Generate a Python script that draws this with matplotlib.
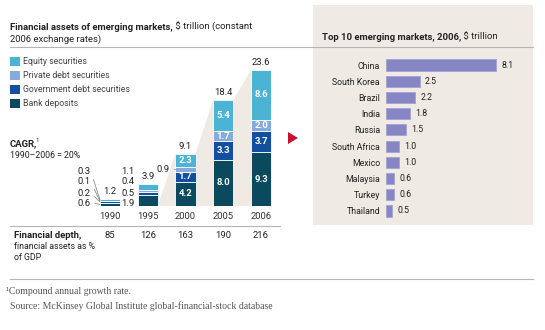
import matplotlib
matplotlib.use('Agg')
import matplotlib.pyplot as plt
from matplotlib.patches import Rectangle, Polygon
from matplotlib.lines import Line2D
from matplotlib.transforms import blended_transform_factory

plt.rcParams['font.family'] = ['Roboto', 'DejaVu Sans']

# data
years = ['1990', '1995', '2000', '2005', '2006']
bank = [0.6, 1.9, 4.2, 8.0, 9.3]
govt = [0.2, 0.5, 1.7, 3.3, 3.7]
private = [0.1, 0.4, 0.9, 1.7, 2.0]
equity = [0.3, 1.1, 2.3, 5.4, 8.6]
totals = [1.2, 3.9, 9.1, 18.4, 23.6]
depth = [85, 126, 163, 190, 216]

countries = ['China', 'South Korea', 'Brazil', 'India', 'Russia',
             'South Africa', 'Mexico', 'Malaysia', 'Turkey', 'Thailand']
country_vals = [8.1, 2.5, 2.2, 1.8, 1.5, 1.0, 1.0, 0.6, 0.6, 0.5]

series_names = ['Equity securities', 'Private debt securities',
                'Government debt securities', 'Bank deposits']
series_cols = ['#4bb4d4', '#86aadb', '#134f9e', '#0b4a5e']
beige = '#efeae4'
txtc = '#222222'
fs = 6.3

W, H = 545, 330
fig = plt.figure(figsize=(5.45, 3.30), dpi=100)


def fx(px):
    return px / W


def fy(py):
    return 1 - py / H


def rich(x, y, parts, size=6.8, color=txtc):
    r = fig.canvas.get_renderer()
    for txt, weight in parts:
        t = fig.text(fx(x), fy(y), txt, fontsize=size, fontweight=weight,
                     va='center', ha='left', color=color)
        x += t.get_window_extent(renderer=r).width


# right beige panel
fig.patches.append(Rectangle((fx(313), fy(225)), fx(533) - fx(313), 220 / H,
                             transform=fig.transFigure, facecolor=beige,
                             edgecolor='none', zorder=-1))

# rules
for y0, x0, x1 in [(47, 10, 533), (226, 10, 280), (279, 10, 533)]:
    fig.add_artist(Line2D([fx(x0), fx(x1)], [fy(y0), fy(y0)], color='#b5b5b5', lw=0.8))

# titles
rich(10, 27, [('Financial assets of emerging markets,', 'bold'), (' $ trillion (constant', 'normal')])
rich(10, 39, [('2006 exchange rates)', 'normal')])
rich(322, 37, [('Top 10 emerging markets, 2006,', 'bold'), (' $ trillion', 'normal')])

# legend
for i, (nm, c) in enumerate(zip(series_names, series_cols)):
    yc = 61.5 + i * 14
    fig.patches.append(Rectangle((fx(9.5), fy(yc + 4.7)), 10 / W, 9.4 / H,
                                 transform=fig.transFigure, facecolor=c, edgecolor='none'))
    fig.text(fx(23), fy(yc), nm, fontsize=fs, va='center', color='#444444')

# CAGR
rich(10, 144, [('CAGR,', 'bold')])
fig.text(fx(36), fy(140), '1', fontsize=4.5, va='center', color=txtc)
rich(10, 155, [('1990\u20132006 = 20%', 'normal')], size=fs)

# left stacked bars
ppu = 5.76
ax = fig.add_axes([fx(91.1), fy(206), 188.8 / W, 159 / H])
ax.set_zorder(3)
ax.set_xlim(-0.5, 4.5)
ax.set_ylim(0, 159 / ppu)
ax.patch.set_visible(False)
for s in ax.spines.values():
    s.set_visible(False)
w = 0.53
x = list(range(len(years)))

# beige wedge behind growing bars
wx = [1 + w / 2, 2 - w / 2, 2 + w / 2, 3 - w / 2, 3 + w / 2, 4 - w / 2, 4 + w / 2, 4 + w / 2]
wy = [0, totals[2], totals[2], totals[3], totals[3], totals[4], totals[4], 0]
ax.add_patch(Polygon(list(zip(wx, wy)), closed=True, facecolor=beige, edgecolor='none', zorder=0))

stack = [bank, govt, private, equity]
stack_cols = [series_cols[3], series_cols[2], series_cols[1], series_cols[0]]
bottom = [0.0] * len(years)
for vals, c in zip(stack, stack_cols):
    ax.bar(x, vals, w, bottom=bottom, color=c, edgecolor='white', linewidth=0.6, zorder=2)
    for i, v in enumerate(vals):
        if i >= 2 and v >= 1.5:
            ax.text(i, bottom[i] + v / 2, f'{v:.1f}', color='white', fontsize=6.8,
                    fontweight='bold', ha='center', va='center', zorder=3)
    bottom = [b + v for b, v in zip(bottom, vals)]

# totals
for i, t in enumerate(totals):
    ax.annotate(f'{t:.1f}', (i, t), xytext=(0, 2), textcoords='offset points',
                ha='center', va='bottom', fontsize=6.8, color=txtc)

# small-value labels for 1990 and 1995
rows_px = [171, 182, 193, 203]
top_down = [equity, private, govt, bank]
for i, lx in [(0, -0.51), (1, 0.64)]:
    base = [0, bank[i], bank[i] + govt[i], bank[i] + govt[i] + private[i]]
    mids = [base[3] + equity[i] / 2, base[2] + private[i] / 2,
            base[1] + govt[i] / 2, bank[i] / 2]
    for k, vals in enumerate(top_down):
        ly = (206 - rows_px[k]) / ppu
        if i == 0:
            ax.annotate(f'{vals[i]:.1f}', (i - w / 2, mids[k]), xytext=(lx, ly),
                        ha='right', va='center', fontsize=6.8, color=txtc,
                        arrowprops=dict(arrowstyle='-', color='#777777', lw=0.5,
                                        shrinkA=1, shrinkB=0, relpos=(1, 0.5)))
        else:
            ax.text(lx, ly, f'{vals[i]:.1f}', ha='right', va='center', fontsize=6.8, color=txtc)
# 2000 private debt
ax.annotate(f'{private[2]:.1f}', (2 - w / 2, bank[2] + govt[2] + private[2] / 2),
            xytext=(1.59, (206 - 169) / ppu), ha='right', va='center', fontsize=6.8, color=txtc,
            arrowprops=dict(arrowstyle='-', color='#777777', lw=0.5,
                            shrinkA=1, shrinkB=0, relpos=(1, 0.5)))

ax.set_xticks(x)
ax.set_xticklabels(years, fontsize=6.8, color='#333333')
ax.tick_params(axis='x', length=0, pad=4)
ax.set_yticks([])

# financial depth row
tr = blended_transform_factory(ax.transData, fig.transFigure)
for i, d in enumerate(depth):
    ax.text(i, fy(235), str(d), transform=tr, ha='center', va='center', fontsize=6.8, color=txtc)
rich(14, 235, [('Financial depth,', 'bold')])
rich(14, 246.5, [('financial assets as %', 'normal')], size=fs)
rich(14, 257.5, [('of GDP', 'normal')], size=fs)

# red arrow
fig.add_artist(Polygon([[fx(288), fy(132)], [fx(288), fy(144)], [fx(298), fy(138)]],
                       closed=True, transform=fig.transFigure, facecolor='#c8102e', edgecolor='none'))

# right horizontal bars
ppu2 = 13.6
ax2 = fig.add_axes([fx(385.5), fy(219.1), 140 / W, 162.2 / H])
ax2.set_zorder(3)
ax2.barh(range(len(countries)), country_vals, height=0.68, color='#8686c4',
         edgecolor='#a3a3d6', linewidth=0.6)
ax2.set_xlim(0, 140 / ppu2)
ax2.set_ylim(len(countries) - 0.5, -0.5)
ax2.patch.set_visible(False)
for s in ax2.spines.values():
    s.set_visible(False)
ax2.set_xticks([])
ax2.set_yticks(range(len(countries)))
ax2.set_yticklabels(countries, fontsize=fs, color=txtc)
ax2.tick_params(axis='y', length=0, pad=4)
for i, v in enumerate(country_vals):
    ax2.annotate(f'{v:.1f}', (v, i), xytext=(4, 0), textcoords='offset points',
                 ha='left', va='center', fontsize=fs, color=txtc)

# footnotes
fig.text(fx(6), fy(292), '\u00b9Compound annual growth rate.', family='Liberation Serif',
         fontsize=7, color='#555555', va='center')
fig.text(fx(10), fy(306), 'Source: McKinsey Global Institute global-financial-stock database',
         family='Liberation Serif', fontsize=7, color='#555555', va='center')

fig.savefig('out.png', dpi=100)
